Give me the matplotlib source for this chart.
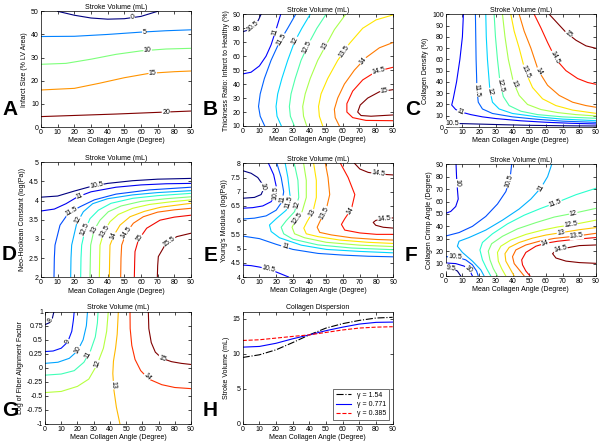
import matplotlib
matplotlib.use('Agg')
import matplotlib.pyplot as plt
import numpy as np

plt.rcParams['font.family'] = ['Liberation Sans', 'DejaVu Sans']
plt.rcParams['font.size'] = 5

angles = [0, 10, 20, 30, 40, 50, 60, 70, 80, 90]

# ---- A: infarct size ----
a_levels = [0, 5, 10, 15, 20]
a_x = [[10, 20, 30, 40, 50, 60, 70],
       [0, 20, 40, 60, 75, 90],
       [0, 15, 30, 45, 60, 75, 90],
       [0, 20, 35, 50, 65, 80, 90],
       [0, 45, 90]]
a_y = [[50, 48.3, 47.1, 46.6, 46.8, 47.8, 50],
       [39.1, 39.2, 40, 41, 41.6, 42],
       [27.1, 27.5, 29.3, 31.4, 32.9, 33.7, 34],
       [16, 16.7, 18.9, 21.3, 23.2, 23.9, 24.2],
       [4.5, 5.6, 6.9]]
a_lab = [(55, 47), (62, 41.1), (64, 33), (67, 23.4), (75, 6.3)]

# ---- B: thickness ratio ----
b_levels = [10.5, 11, 11.5, 12, 12.5, 13, 13.5, 14, 14.5, 15]
b_x = [[0, 4, 7, 9.5, 11],
       [0, 5, 10, 14, 17, 20, 22.8],
       [13.2, 10.5, 9.5, 10.5, 13, 17, 22, 27, 31.8],
       [23.2, 20.6, 20, 21, 23.5, 27, 31, 35.5, 40.5],
       [31, 28.6, 28, 29, 31.5, 35, 40, 44.5, 50],
       [38.4, 36.5, 36, 37.5, 40.5, 45, 50, 55, 61.8],
       [48, 46, 45.5, 47, 51, 57, 64, 72, 80, 90],
       [58, 55.5, 55, 57, 61, 67, 74, 82, 90],
       [90, 80, 72, 66, 62.5, 62.5, 66, 74, 90],
       [90, 82, 75, 70.5, 69, 71, 77, 90]]
b_y = [[77.5, 79, 82, 86, 90],
       [47.3, 48.5, 53, 60, 68, 79, 90],
       [10, 17, 24, 33, 44, 57, 70, 80, 90],
       [10, 17, 24, 33, 44, 57, 70, 80, 90],
       [10, 17, 24, 33, 44, 57, 70, 80, 90],
       [10, 17, 24, 33, 44, 57, 68, 79, 90],
       [10, 17, 24, 33, 44, 57, 69, 80, 86, 89.5],
       [10, 16, 22, 30, 40, 50, 59, 66, 69.7],
       [52, 49, 43, 35, 26, 20, 16, 14, 13.8],
       [36, 34.5, 30, 25, 20, 17.5, 17, 17.9]]
b_lab = [(5.4, 82.3), (18.8, 77.6), (22.4, 72.5), (31, 71.6), (38.4, 66.8),
         (50, 66.8), (59.4, 64.9), (70, 59.2), (81.4, 49.6), (85.4, 32.2)]

# ---- C: collagen density ----
c_levels = [10.5, 11, 11.5, 12, 12.5, 13, 13.5, 14, 14.5, 15]
c_x = [[0, 10, 20, 35, 50, 70, 90],
       [10.6, 10, 8.5, 6.5, 4.5, 3.6, 6, 10, 15, 22, 30, 45, 60, 75, 90],
       [17.8, 18, 18.2, 18.5, 18.7, 19.5, 22, 28, 40, 55, 70, 90],
       [24, 24.3, 25, 25.8, 26.5, 28, 32, 40, 55, 70, 90],
       [29, 29.8, 31, 32.5, 34.5, 38, 45, 55, 70, 90],
       [34, 35.5, 37.5, 40.5, 44, 49, 57, 67, 78, 90],
       [39, 41, 44, 47.5, 52, 58, 66, 76, 90],
       [44, 47, 51, 55.5, 61, 68, 76, 84, 90],
       [53, 57, 61, 66, 72, 79, 85, 90],
       [62, 67, 72, 78, 84, 90]]
c_y = [[3.2, 3, 2.6, 2, 1.5, 1.1, 0.9],
       [100, 80, 60, 40, 25, 19.5, 15.5, 13, 11, 9, 7.5, 5.5, 4.2, 3.3, 2.7],
       [100, 80, 60, 45, 33, 22, 16, 12, 9, 6.8, 5.2, 4.1],
       [100, 80, 60, 45, 32, 22, 16, 12, 9, 7, 5.6],
       [100, 80, 60, 40, 27, 19, 14, 11, 9, 7.7],
       [100, 80, 60, 40, 28, 20, 15.5, 12.8, 11, 9.8],
       [100, 85, 70, 50, 35, 25, 19, 15, 12.1],
       [100, 85, 70, 50, 37, 28, 22, 19, 17.5],
       [100, 88, 75, 60, 50, 43, 39.5, 37.9],
       [100, 92, 84, 77, 72, 69.8]]
c_lab = [(4, 3.1), (8.6, 12.5), (18.6, 32.8), (26.5, 31), (32.5, 37),
         (40.5, 38), (47.5, 49), (55.5, 49), (64, 61), (72.4, 80)]

# ---- D: neo-Hookean constant ----
d_levels = [10.5, 11, 11.5, 12, 12.5, 13, 13.5, 14, 14.5, 15, 15.5]
d_x = [[0, 10, 20, 30, 40, 55, 70, 90],
       [0, 8, 15, 22, 30, 45, 60, 75, 90],
       [7.8, 8, 8.4, 11.4, 16.4, 23.4, 32, 45, 65, 90],
       [17.8, 18, 18.4, 21.4, 25.4, 31, 40, 55, 70, 90],
       [23.8, 24, 24.4, 26.4, 29.4, 34.4, 42, 55, 70, 90],
       [29.4, 29.6, 29.8, 31.8, 35.4, 40.4, 48, 60, 75, 90],
       [35, 35.2, 35.4, 37.8, 41.4, 46.4, 55, 65, 78, 90],
       [41, 41.2, 41.4, 43.8, 47.4, 53.4, 62, 72, 90],
       [47.8, 48, 48.4, 51, 55.4, 61.4, 70, 80, 90],
       [56, 56.2, 56.4, 58.4, 63.4, 71.4, 80, 90],
       [69.8, 70, 70.4, 74.4, 81.4, 90]]
d_y = [[4.09, 4.12, 4.25, 4.37, 4.45, 4.52, 4.56, 4.58],
       [3.73, 3.78, 3.92, 4.1, 4.23, 4.35, 4.41, 4.44, 4.45],
       [2, 2.5, 2.84, 3.36, 3.67, 3.84, 4.02, 4.17, 4.28, 4.35],
       [2, 2.5, 2.84, 3.4, 3.71, 3.92, 4.05, 4.15, 4.21, 4.26],
       [2, 2.5, 2.84, 3.23, 3.53, 3.75, 3.93, 4.06, 4.13, 4.19],
       [2, 2.5, 2.84, 3.23, 3.49, 3.71, 3.86, 3.98, 4.05, 4.1],
       [2, 2.5, 2.84, 3.19, 3.45, 3.64, 3.8, 3.9, 3.97, 4.02],
       [2, 2.5, 2.84, 3.1, 3.36, 3.58, 3.72, 3.83, 3.93],
       [2, 2.5, 2.84, 3.15, 3.41, 3.58, 3.7, 3.76, 3.8],
       [2, 2.4, 2.67, 2.97, 3.28, 3.49, 3.57, 3.62],
       [2, 2.3, 2.54, 2.84, 3.06, 3.15]]
d_lab = [(33.4, 4.38), (22.8, 4.17), (18.4, 3.71), (22.4, 3.49), (27.4, 3.23),
         (32.4, 3.23), (38.4, 3.19), (44.4, 3.06), (51.8, 3.15), (59.4, 3.02),
         (76.4, 2.97)]

# ---- E: Young's modulus ----
e_levels = [10, 10.5, 11, 11, 10.5, 11.5, 12, 12.5, 13, 13.5, 14, 14.5, 14.5]
e_x = [[0, 5, 9, 12, 12.5, 11, 7, 0],
       [15.4, 18.5, 20, 19.5, 17, 12, 6, 0],
       [20.4, 23, 24.5, 23.5, 20, 14, 7, 0],
       [0, 10, 20, 30, 45, 60, 75, 90],
       [0, 5, 10, 16, 22, 27.4],
       [25.4, 27, 28.4, 26, 20, 16, 17, 22, 35, 50, 70, 90],
       [30.8, 33, 33.5, 31, 26, 23, 24.5, 30, 45, 65, 90],
       [36.4, 38, 38, 35.5, 31.5, 29.5, 31, 37, 50, 70, 90],
       [42.4, 44, 44, 42, 38.5, 36.5, 38, 45, 58, 75, 90],
       [49.4, 51, 52, 50, 46.5, 44.5, 46, 53, 65, 80, 90],
       [58.4, 63, 67, 65, 61, 59, 61, 70, 80, 90],
       [66.8, 70, 75, 82, 90],
       [90, 84, 79.5, 78, 79.5, 84, 90]]
e_y = [[7.74, 7.65, 7.5, 7.25, 7.1, 6.9, 6.8, 6.77],
       [8, 7.6, 7.2, 6.9, 6.65, 6.5, 6.44, 6.42],
       [8, 7.5, 7, 6.65, 6.35, 6.15, 6.07, 6.04],
       [5.44, 5.35, 5.15, 4.97, 4.83, 4.77, 4.73, 4.71],
       [4.42, 4.4, 4.35, 4.27, 4.13, 4],
       [8, 7.5, 6.8, 6.35, 6.05, 5.83, 5.6, 5.38, 5.12, 4.97, 4.9, 4.85],
       [8, 7.4, 6.8, 6.3, 5.98, 5.75, 5.52, 5.33, 5.13, 5.02, 4.96],
       [8, 7.4, 6.8, 6.3, 5.97, 5.75, 5.52, 5.38, 5.22, 5.12, 5.07],
       [8, 7.4, 6.8, 6.3, 5.95, 5.72, 5.52, 5.42, 5.3, 5.22, 5.18],
       [8, 7.5, 6.9, 6.4, 6.0, 5.75, 5.57, 5.48, 5.38, 5.32, 5.3],
       [8, 7.5, 6.9, 6.4, 6.05, 5.85, 5.65, 5.55, 5.5, 5.5],
       [8, 7.8, 7.68, 7.62, 7.59],
       [6.08, 6.05, 5.99, 5.92, 5.82, 5.75, 5.72]]
e_lab = [(12.4, 7.18), (19.4, 6.94), (23.4, 6.73), (24.4, 4.9), (15.4, 4.25),
         (28.4, 6.6), (33.4, 6.53), (34.4, 6.0), (43.4, 6.18), (51.4, 6.18),
         (63.4, 6.36), (81, 7.6), (85, 5.9)]

# ---- F: collagen crimp angle ----
f_levels = [9.5, 10, 10.5, 10, 10.5, 11, 11.5, 12, 12.5, 13, 13.5, 14, 14.5]
f_x = [[0, 4, 7, 9],
       [0, 6, 11, 14.5, 16],
       [0, 7, 12, 16, 18.5, 19.5],
       [6.2, 6.5, 7, 7.5, 6, 3, 0],
       [39.5, 38.5, 36, 31, 24, 16, 8, 0],
       [23, 21, 16, 10, 7, 8, 14, 24, 34, 44, 51, 57, 61, 63.5],
       [27, 24.5, 22, 20.5, 22, 28, 37, 47, 57, 66, 78, 90],
       [31, 28.5, 26.5, 25.5, 27.5, 34, 43, 54, 65, 76.4, 90],
       [36, 33.5, 31.5, 31, 33, 39, 48, 58, 67, 75, 90],
       [41, 38.5, 36, 35.5, 38, 44, 52, 60, 69, 80, 90],
       [47, 44, 41, 40, 42, 48, 56, 65, 78.4, 90],
       [50.5, 48, 46, 45.5, 48, 54, 59.5, 67, 78, 90],
       [90, 80, 72, 66, 64, 66, 72, 80, 90]]
f_y = [[7, 6, 4, 0],
       [10.5, 10, 8, 4, 0],
       [15.6, 15, 13, 9, 4, 0],
       [90, 80, 70, 62, 56, 52, 50.5],
       [90, 78, 68, 58, 48, 40, 35, 32.2],
       [0, 5, 12, 19, 24, 28, 31, 37, 45, 54, 62, 71, 80, 90],
       [0, 6, 13, 21, 27, 34, 42, 49, 54.5, 59, 65.5, 70.7],
       [0, 6, 13, 20, 26, 32, 38, 43, 47.5, 50.5, 54.5],
       [0, 6, 12, 19, 24, 29, 33.5, 37, 39.5, 41.1, 45],
       [0, 6, 12, 18, 23, 27, 30.5, 33, 34.9, 37.3, 39],
       [0, 5, 10, 15.6, 21, 25, 28, 30.3, 32.2, 34.4],
       [0, 4, 9, 13, 19, 24, 26.3, 28, 29.6, 31],
       [25, 24.5, 22.5, 20.5, 18, 14.5, 12, 10.8, 10.2]]
f_lab = [(2.6, 4.8), (13.5, 5.4), (5.6, 13.4), (6.2, 74.7), (38.5, 76),
         (57.5, 70.7), (65.5, 59), (76.4, 50.5), (75, 41.1), (69, 34.9),
         (78.4, 32.2), (59.5, 26.3), (68.4, 23.6)]

# ---- G: fiber alignment ----
g_levels = [8, 9, 10, 11, 12, 13, 14, 15]
g_x = [[0, 2.5, 4.5, 5.5],
       [0, 5, 10, 14, 16.5, 17.5, 18],
       [0, 8, 15, 20, 23.5, 25.5, 26.2],
       [0, 10, 18, 24, 28, 31, 32.3, 32.7],
       [0, 10, 20, 27, 32, 36, 38, 39],
       [45.2, 44.5, 43.5, 42.2, 41.8, 42.5, 44, 46.2],
       [52.4, 52.5, 53.5, 55.5, 59, 64, 72, 80, 90],
       [63.7, 64, 65.5, 68, 72, 78, 84, 90]]
g_y = [[0.77, 0.8, 0.88, 1.0],
       [0.29, 0.3, 0.35, 0.46, 0.65, 0.85, 1],
       [0.08, 0.1, 0.17, 0.3, 0.5, 0.75, 1],
       [-0.13, -0.11, -0.05, 0.1, 0.3, 0.55, 0.8, 1],
       [-0.44, -0.42, -0.33, -0.2, 0.05, 0.35, 0.65, 1],
       [1, 0.6, 0.35, 0.12, -0.1, -0.4, -0.7, -1],
       [1, 0.7, 0.4, 0.15, -0.05, -0.2, -0.3, -0.35, -0.37],
       [1, 0.7, 0.45, 0.28, 0.17, 0.11, 0.08, 0.06]]
g_lab = [(3.5, 0.85), (14.4, 0.47), (20.5, 0.32), (26.7, 0.23), (31.8, 0.07),
         (41.1, -0.31), (62, -0.19), (72.3, 0.17)]

# ---- H: collagen dispersion ----
h_gamma_154 = [9.48, 9.86, 10.57, 11.6, 12.7, 13.67, 14.3, 14.76, 15.1, 15.2]
h_gamma_0771 = [10.95, 11.05, 11.5, 12.14, 12.7, 13.3, 13.8, 14.24, 14.48, 14.52]
h_gamma_0385 = [11.9, 12.0, 12.24, 12.48, 12.7, 13.05, 13.4, 13.67, 13.8, 13.86]

fig = plt.figure(figsize=(6, 4.43), dpi=100)
W, H = 600.0, 443.0


def make_ax(left, right, top, bottom):
    return fig.add_axes([left / W, 1 - bottom / H, (right - left) / W, (bottom - top) / H])


def style(ax, ylim, yticks, ylabel, title):
    ax.set_xlim(0, 90)
    ax.set_xticks(angles)
    ax.set_ylim(*ylim)
    ax.set_yticks(yticks)
    ax.set_yticklabels(['%g' % t for t in yticks])
    ax.tick_params(direction='in', length=2, width=0.5, top=True, right=True,
                   labelsize=5, pad=1.5)
    for s in ax.spines.values():
        s.set_linewidth(0.5)
    ax.set_xlabel('Mean Collagen Angle (Degree)', fontsize=5, labelpad=1)
    ax.set_ylabel(ylabel, fontsize=5, labelpad=2)
    ax.set_title(title, fontsize=5, pad=2)


def contour_lines(ax, levels, xs, ys, labs):
    vmin, vmax = min(levels), max(levels)
    cmap = plt.get_cmap('jet')
    for lev, x, y, lab in zip(levels, xs, ys, labs):
        col = cmap((lev - vmin) / (vmax - vmin))
        ax.plot(x, y, color=col, lw=0.8)
        pts = ax.transData.transform(np.column_stack([x, y]))
        tgt = ax.transData.transform(lab)
        best = None
        for i in range(len(pts) - 1):
            p, q = pts[i], pts[i + 1]
            d = q - p
            t = np.clip(np.dot(tgt - p, d) / np.dot(d, d), 0, 1)
            c = p + t * d
            dist = np.hypot(*(tgt - c))
            if best is None or dist < best[0]:
                best = (dist, c, d)
        _, c, d = best
        ang = np.degrees(np.arctan2(d[1], d[0]))
        if ang > 90:
            ang -= 180
        if ang < -90:
            ang += 180
        cx, cy = ax.transData.inverted().transform(c)
        ax.text(cx, cy, '%g' % lev, rotation=ang, rotation_mode='anchor',
                ha='center', va='center', fontsize=5,
                bbox=dict(boxstyle='square,pad=0.05', fc='white', ec='none'))


axA = make_ax(41, 191, 11.3, 127)
style(axA, (0, 50), [0, 10, 20, 30, 40, 50], 'Infarct Size (% LV Area)', 'Stroke Volume (mL)')
contour_lines(axA, a_levels, a_x, a_y, a_lab)

axB = make_ax(242.7, 392.7, 14.3, 126)
style(axB, (10, 90), list(range(10, 91, 10)), 'Thickness Ratio: Infarct to Healthy (%)', 'Stroke Volume (mL)')
contour_lines(axB, b_levels, b_x, b_y, b_lab)

axC = make_ax(445.7, 596, 14.3, 127)
style(axC, (0, 100), list(range(0, 101, 10)), 'Collagen Density (%)', 'Stroke Volume (mL)')
contour_lines(axC, c_levels, c_x, c_y, c_lab)

axD = make_ax(41, 191, 162.3, 277.3)
style(axD, (2, 5), [2, 2.5, 3, 3.5, 4, 4.5, 5], 'Neo-Hookean Constant (log(Pa))', 'Stroke Volume (mL)')
contour_lines(axD, d_levels, d_x, d_y, d_lab)

axE = make_ax(242.7, 393.3, 163.3, 277)
style(axE, (4, 8), [4, 4.5, 5, 5.5, 6, 6.5, 7, 7.5, 8], "Young's Modulus (log(Pa))", 'Stroke Volume (mL)')
contour_lines(axE, e_levels, e_x, e_y, e_lab)

axF = make_ax(445.7, 596, 164.3, 276)
style(axF, (0, 90), list(range(0, 91, 10)), 'Collagen Crimp Angle (Degree)', 'Stroke Volume (mL)')
contour_lines(axF, f_levels, f_x, f_y, f_lab)

axG = make_ax(45, 191, 311.7, 424)
style(axG, (-1, 1), [-1, -0.75, -0.5, -0.25, 0, 0.25, 0.5, 0.75, 1], 'Log of Fiber Alignment Factor', 'Stroke Volume (mL)')
contour_lines(axG, g_levels, g_x, g_y, g_lab)

axH = make_ax(242.7, 392.7, 311.7, 424)
style(axH, (0, 16), [0, 5, 10, 15], 'Stroke Volume (mL)', 'Collagen Dispersion')
axH.plot(angles, h_gamma_154, color='black', ls='-.', lw=0.8, label='γ = 1.54')
axH.plot(angles, h_gamma_0771, color='blue', ls='-', lw=0.8, label='γ = 0.771')
axH.plot(angles, h_gamma_0385, color='red', ls='--', lw=0.8, label='γ = 0.385')
leg = axH.legend(loc='lower right', fontsize=5, fancybox=False, edgecolor='black',
                 handlelength=2.2, borderaxespad=0.6, labelspacing=0.3, borderpad=0.4)
leg.get_frame().set_linewidth(0.5)

letters = [('A', 2, 115), ('B', 203, 115), ('C', 405, 115),
           ('D', 2, 260), ('E', 204, 261), ('F', 405, 261),
           ('G', 2, 416), ('H', 203, 416)]
for ch, px, py in letters:
    fig.text(px / W, 1 - py / H, ch, fontsize=15, fontweight='bold',
             ha='left', va='baseline')

fig.savefig('out.png', dpi=100)
